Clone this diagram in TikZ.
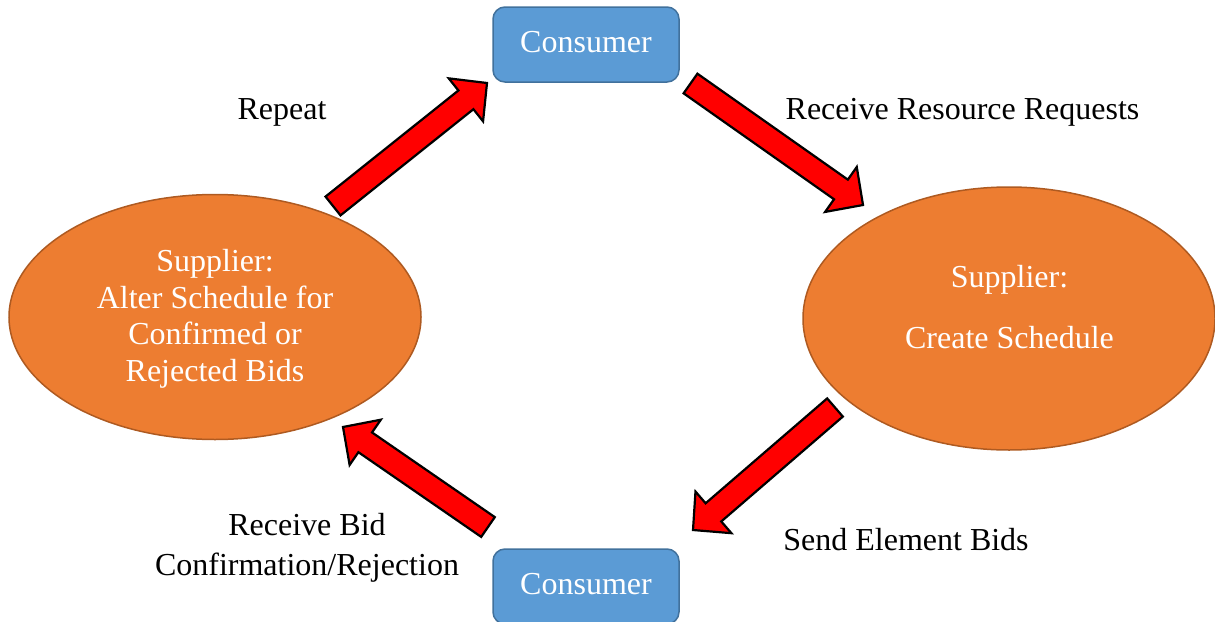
\documentclass[tikz,border=0pt]{standalone}
\usepackage{fontspec}
\setmainfont{Liberation Serif}
\usetikzlibrary{shapes.geometric,calc}

\definecolor{boxblue}{HTML}{5B9BD5}
\definecolor{boxblueline}{HTML}{41719C}
\definecolor{supporange}{HTML}{ED7D31}
\definecolor{supporangeline}{HTML}{AE5A21}

% thick red block arrow from a tail point to a tip point
\newcommand\blockarrow[2]{%
  \coordinate (#1-#2-neck) at ($(#2)!27pt!(#1)$);
  \draw[bigarrow]
    ($(#1)!12pt!90:(#2)$) -- ($(#1-#2-neck)!12pt!-90:(#1)$)
    -- ($(#1-#2-neck)!27.5pt!-90:(#1)$) -- (#2)
    -- ($(#1-#2-neck)!27.5pt!90:(#1)$) -- ($(#1-#2-neck)!12pt!90:(#1)$)
    -- ($(#1)!12pt!-90:(#2)$) -- cycle;}

\begin{document}
\begin{tikzpicture}[x=1pt,y=-1pt,
  every node/.style={font=\fontsize{32}{36.7}\selectfont},
  consumer/.style={draw=boxblueline, line width=1.5pt, fill=boxblue,
    rounded corners=12pt, minimum width=186pt, minimum height=75pt,
    text=white, text depth=6pt, inner sep=0pt},
  supplier/.style={ellipse, draw=supporangeline, line width=1.5pt,
    fill=supporange, inner sep=0pt},
  whitetext/.style={text=white, align=center, anchor=base, inner sep=0pt},
  steplabel/.style={text=black, align=center, anchor=base, inner sep=0pt},
  bigarrow/.style={draw=black, line width=2.2pt, fill=red, line join=miter}]

\useasboundingbox (0,0) rectangle (1215,621);

% process stages
\node[consumer] (ctop) at (586,44.5) {Consumer};
\node[consumer] (cbot) at (586,586.5) {Consumer};
\node[supplier, minimum width=412pt, minimum height=245pt] (salter) at (215,317) {};
\node[supplier, minimum width=412pt, minimum height=263pt] (screate) at (1009,318.5) {};

% multi-line texts are placed by the baseline of their last line
\node[whitetext] (salterText) at (215,381.5)
  {Supplier:\\Alter Schedule for\\Confirmed or\\Rejected Bids};
\node[whitetext] (screateText) at (1009.5,348)
  {Supplier:\\[24pt]Create Schedule};

% arrow end points
\coordinate (a1t) at (333,206);   \coordinate (a1h) at (487,83);
\coordinate (a2t) at (690.5,83.5); \coordinate (a2h) at (863,205);
\coordinate (a3t) at (835,407.5); \coordinate (a3h) at (693,530);
\coordinate (a4t) at (488,527);   \coordinate (a4h) at (343,427);

\blockarrow{a1t}{a1h}
\blockarrow{a2t}{a2h}
\blockarrow{a3t}{a3h}
\blockarrow{a4t}{a4h}

% step labels
\node[steplabel] (lrepeat) at (282,119.5) {Repeat};
\node[steplabel] (lrequests) at (962.5,119.5) {Receive Resource Requests};
\node[steplabel] (lbids) at (906,550) {Send Element Bids};
\node[steplabel] (lconfirm) at (307,575)
  {Receive Bid\\[3.3pt]Confirmation/Rejection};
\end{tikzpicture}
\end{document}
